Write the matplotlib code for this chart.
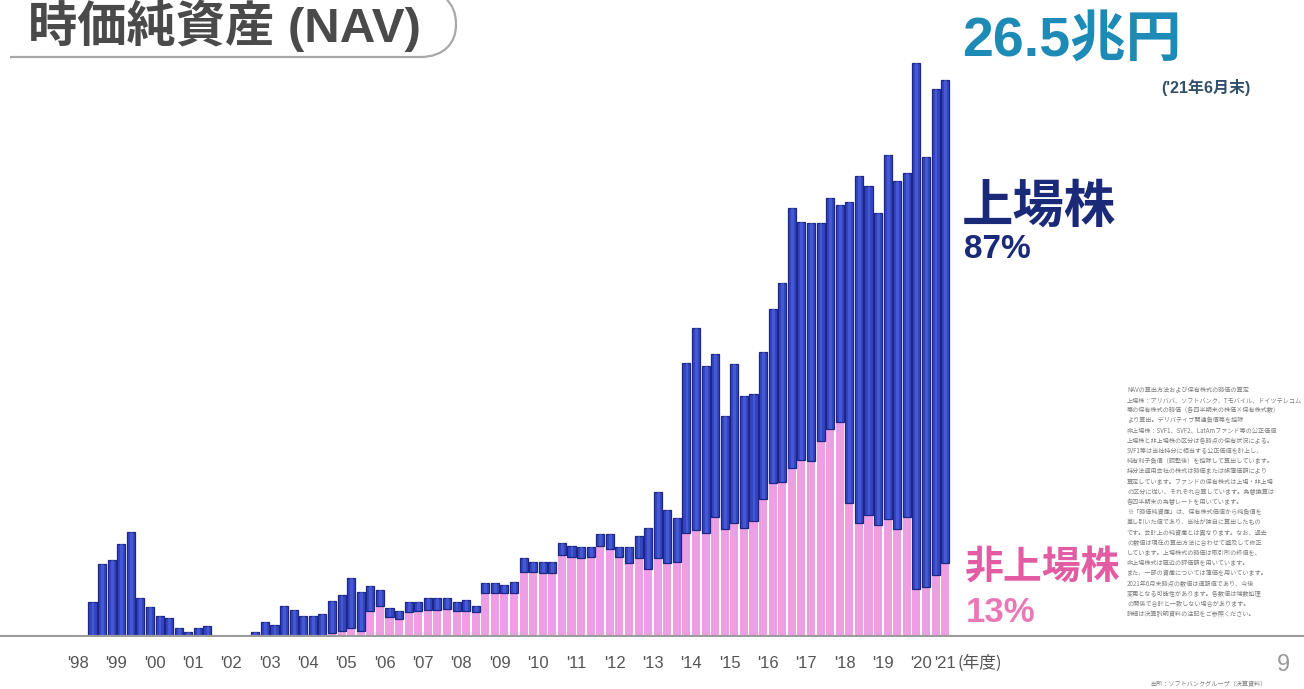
import matplotlib
matplotlib.use("Agg")
import matplotlib.pyplot as plt
from matplotlib.path import Path
from matplotlib.patches import PathPatch

plt.rcParams['font.family'] = ['Noto Sans CJK JP', 'DejaVu Sans']

# Quarterly NAV (trillion yen), FY1998 Q4 through FY2021 Q1
quarters = list(range(90))

unlisted = [
    0, 0, 0, 0, 0, 0, 0, 0, 0, 0, 0, 0, 0,
    0, 0, 0, 0,
    0, 0, 0, 0, 0, 0, 0, 0,
    0.15, 0.26, 0.42, 0.26, 1.23, 1.45, 0.91, 0.85,
    1.18, 1.21, 1.26, 1.26, 1.31, 1.23, 1.23, 1.18,
    2.06, 2.06, 2.06, 2.09, 3.09, 3.06, 3.02, 3.02,
    3.88, 3.80, 3.72, 3.80, 4.31, 4.17, 3.80, 3.49,
    3.72, 3.20, 3.72, 3.51, 3.55, 4.91, 5.07, 4.91,
    5.67, 5.10, 5.42, 5.15, 5.50, 6.53, 7.31, 7.38,
    8.04, 8.40, 8.36, 9.29, 9.88, 10.23, 6.34, 5.39,
    5.79, 5.31, 5.58, 5.10, 5.68, 2.25, 2.34, 2.93,
    3.49,
]

listed = [
    1.65, 3.44, 3.64, 4.40, 4.96, 1.85, 1.42, 0.99, 0.90, 0.40, 0.23, 0.40, 0.50,
    0, 0, 0, 0,
    0.20, 0.69, 0.56, 1.45, 1.26, 0.98, 0.98, 1.07,
    1.55, 1.73, 2.35, 1.87, 1.17, 0.76, 0.46, 0.36,
    0.45, 0.42, 0.56, 0.56, 0.51, 0.43, 0.51, 0.27,
    0.47, 0.47, 0.39, 0.52, 0.63, 0.47, 0.54, 0.54,
    0.59, 0.52, 0.56, 0.48, 0.57, 0.71, 0.48, 0.76,
    1.07, 1.95, 3.18, 2.51, 2.08, 8.13, 9.64, 7.99,
    7.78, 5.41, 7.56, 6.30, 6.05, 7.03, 8.27, 9.44,
    12.36, 11.34, 11.33, 10.40, 11.00, 10.34, 14.33, 16.54,
    15.64, 14.88, 17.35, 16.57, 16.38, 25.05, 20.48, 23.13,
    23.01,
]

year_labels = ["'98", "'99", "'00", "'01", "'02", "'03", "'04", "'05",
               "'06", "'07", "'08", "'09", "'10", "'11", "'12", "'13",
               "'14", "'15", "'16", "'17", "'18", "'19", "'20", "'21"]

total_label = "26.5兆円"
total_note = "('21年6月末)"
listed_name, listed_share = "上場株", "87%"
unlisted_name, unlisted_share = "非上場株", "13%"

latin = ['Liberation Sans', 'Noto Sans CJK JP']

W, H = 1304, 689
fig = plt.figure(figsize=(W / 100, H / 100), dpi=100)
fig.patch.set_facecolor("white")

# plotting area: full width, baseline 636 px from the top
base_px = 636.5
ax = fig.add_axes([0, (H - base_px) / H, 1, base_px / H])
x0_px, pitch_px = 92.5, 9.58
ax.set_xlim(-x0_px / pitch_px, (W - x0_px) / pitch_px)
ax.set_ylim(0, base_px / 21.0)
ax.axis("off")

pink = "#EE9EE2"
blue = "#3445C2"
blue_edge = "#1C2684"
blue_light = "#5568E0"

ax.bar(quarters, unlisted, width=0.84, color=pink, linewidth=0, zorder=2)
ax.bar(quarters, listed, bottom=unlisted, width=0.84, color=blue,
       edgecolor=blue_edge, linewidth=0.9, zorder=2)
ax.bar([q + 0.05 for q in quarters], listed, bottom=unlisted, width=0.3,
       color=blue_light, alpha=0.55, linewidth=0, zorder=3)

ax.axhline(0, color="#9c9c9c", linewidth=3, zorder=4)

# fiscal-year labels, centred on each year's quarters
last = quarters[-1]
for k, lab in enumerate(year_labels):
    pos = min(4 * k - 1.5, last)
    ax.annotate(lab, xy=(pos, 0), xytext=(0, -27), textcoords="offset pixels",
                ha="center", va="center", fontsize=12, color="#555555",
                family=latin, annotation_clip=False)
ax.annotate("(年度)", xy=(last, 0), xytext=(12, -27), textcoords="offset pixels",
            ha="left", va="center", fontsize=12, color="#555555",
            annotation_clip=False)


def fx(px):
    return px / W


def fy(py):
    return 1 - py / H


# title with its rounded underline
fig.text(fx(28), fy(26), "時価純資産 (NAV)", fontsize=35.5, fontweight="bold",
         color="#4a4a4a", ha="left", va="center", family=latin)
verts = [(10, 57), (420, 57), (445, 57), (456, 42), (456, 25),
         (456, 12), (452, 5), (447, 0)]
codes = [Path.MOVETO, Path.LINETO, Path.CURVE4, Path.CURVE4, Path.CURVE4,
         Path.CURVE4, Path.CURVE4, Path.CURVE4]
swoosh = Path([(fx(x), fy(y)) for x, y in verts], codes)
fig.add_artist(PathPatch(swoosh, facecolor="none", edgecolor="#a8a8a8",
                         linewidth=1.6, transform=fig.transFigure))

# headline figure and shares
fig.text(fx(962), fy(42), total_label, fontsize=40, fontweight="bold",
         color="#1E8AB6", ha="left", va="center", family=latin)
fig.text(fx(1250), fy(87), total_note, fontsize=11.5, fontweight="bold",
         color="#33506B", ha="right", va="center", family=latin)
fig.text(fx(962), fy(206), listed_name, fontsize=37, fontweight="bold",
         color="#1B2A78", ha="left", va="center")
fig.text(fx(964), fy(249), listed_share, fontsize=24, fontweight="bold",
         color="#1B2A78", ha="left", va="center", family=latin)
fig.text(fx(965), fy(568), unlisted_name, fontsize=28, fontweight="bold",
         color="#E25BA3", ha="left", va="center")
fig.text(fx(966), fy(612), unlisted_share, fontsize=25, fontweight="bold",
         color="#EA78B6", ha="left", va="center", family=latin)

# explanatory notes
notes = [
    "NAVの算出方法および保有株式の時価の算定",
    "上場株：アリババ、ソフトバンク、Tモバイル、ドイツテレコム",
    "等の保有株式の時価（各四半期末の株価×保有株式数）",
    "より算出。デリバティブ関連負債等を控除",
    "非上場株：SVF1、SVF2、LatAmファンド等の公正価値",
    "上場株と非上場株の区分は各時点の保有状況による。",
    "SVF1等は当社持分に相当する公正価値を計上し、",
    "純有利子負債（調整後）を控除して算出しています。",
    "持分法適用会社の株式は時価または帳簿価額により",
    "算定しています。ファンドの保有株式は上場・非上場",
    "の区分に従い、それぞれ合算しています。為替換算は",
    "各四半期末の為替レートを用いています。",
    "※「時価純資産」は、保有株式価値から純負債を",
    "差し引いた値であり、当社が独自に算出したもの",
    "です。会計上の純資産とは異なります。なお、過去",
    "の数値は現在の算出方法に合わせて遡及して修正",
    "しています。上場株式の時価は取引所の終値を、",
    "非上場株式は直近の評価額を用いています。",
    "また、一部の資産については簿価を用いています。",
    "2021年6月末時点の数値は速報値であり、今後",
    "変更となる可能性があります。各数値は端数処理",
    "の関係で合計と一致しない場合があります。",
    "詳細は決算説明資料の注記をご参照ください。",
]
for j, line in enumerate(notes):
    fig.text(fx(1127), fy(390 + j * 10.2), line, fontsize=4.4,
             color="#7c7c7c", ha="left", va="center")

fig.text(fx(1290), fy(665), "9", fontsize=17, color="#9a9a9a",
         ha="right", va="center", family=latin)
fig.text(fx(1150), fy(684), "出所：ソフトバンクグループ（決算資料）", fontsize=4.4,
         color="#7c7c7c", ha="left", va="center")

fig.savefig("out.png", dpi=100, facecolor="white")
